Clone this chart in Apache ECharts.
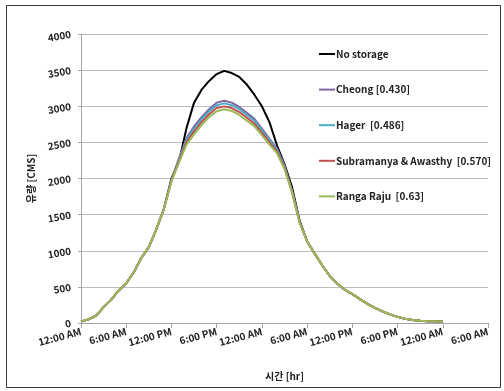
<!DOCTYPE html>
<html><head><meta charset="utf-8">
<script src="https://cdn.jsdelivr.net/npm/echarts@6/dist/echarts.min.js"></script>
<style>html,body{margin:0;padding:0;background:#fff}#c{width:504px;height:391px}</style>
</head><body><div id="c"></div>
<script>
const hours = [0,1,2,3,4,5,6,7,8,9,10,11,12,13,14,15,16,17,18,19,20,21,22,23,24,25,26,27,28,29,30,31,32,33,34,35,36,37,38,39,40,41,42,43,44,45,46,47,48];
const noStorage = [20,50,100,220,320,450,550,700,900,1050,1300,1580,2000,2230,2700,3050,3230,3350,3445,3490,3460,3405,3300,3160,3000,2780,2460,2200,1880,1420,1130,960,800,650,545,460,400,330,265,210,160,120,85,60,42,30,25,25,20];
const cheong = [20,50,100,220,320,450,550,700,900,1050,1300,1580,1980,2280,2560,2720,2850,2960,3050,3075,3050,2990,2910,2825,2690,2550,2418,2180,1830,1400,1130,960,800,650,545,460,400,330,265,210,160,120,85,60,42,30,25,25,20];
const hager = [20,50,100,220,320,450,550,700,900,1050,1300,1580,1975,2265,2535,2690,2820,2930,3015,3040,3015,2960,2880,2800,2665,2530,2400,2165,1825,1398,1130,960,800,650,545,460,400,330,265,210,160,120,85,60,42,30,25,25,20];
const subramanya = [20,50,100,220,320,450,550,700,900,1050,1300,1580,1970,2245,2505,2650,2780,2890,2975,2998,2975,2920,2840,2760,2630,2500,2375,2150,1818,1395,1130,960,800,650,545,460,400,330,265,210,160,120,85,60,42,30,25,25,20];
const rangaRaju = [20,50,100,220,320,450,550,700,900,1050,1300,1580,1960,2220,2470,2610,2740,2850,2930,2958,2935,2880,2800,2725,2600,2470,2350,2130,1810,1390,1130,960,800,650,545,460,400,330,265,210,160,120,85,60,42,30,25,25,20];
const seriesNames = ['No storage','Cheong [0.430]','Hager  [0.486]','Subramanya & Awasthy  [0.570]','Ranga Raju  [0.63]'];
const seriesColors = ['#000000','#8064A2','#4BACC6','#C0504D','#9BBB59'];
const xTickLabels = ['12:00 AM','6:00 AM','12:00 PM','6:00 PM'];
const yTicks = [0,500,1000,1500,2000,2500,3000,3500,4000];

const allValues = [noStorage, cheong, hager, subramanya, rangaRaju];
const FF = "'Noto Sans CJK KR','Noto Sans',sans-serif";
const chart = echarts.init(document.getElementById('c'));
chart.setOption({
  animation:false,
  backgroundColor:'#fff',
  graphic:[{type:'rect',shape:{x:6.5,y:5.5,width:494,height:382},style:{fill:'none',stroke:'#3a3a3a',lineWidth:1},silent:true}],
  grid:{left:81,right:16,top:34,bottom:68},
  legend:{
    orient:'vertical', left:314, top:43,
    icon:'rect', itemWidth:16, itemHeight:2, itemGap:23.6,
    textStyle:{fontFamily:FF,fontSize:10,fontWeight:'bold',color:'#222',lineHeight:12,padding:[0,0,0,-4]},
    data:seriesNames
  },
  xAxis:{
    type:'value', min:0, max:54, interval:6,
    name:'시간 [hr]', nameLocation:'middle', nameGap:48,
    nameTextStyle:{fontFamily:FF,fontSize:10,fontWeight:'bold',color:'#222'},
    axisLine:{lineStyle:{color:'#a6a6a6'}},
    axisTick:{length:5,lineStyle:{color:'#a6a6a6'}},
    splitLine:{show:false},
    axisLabel:{rotate:15,margin:8,fontFamily:FF,fontSize:10,fontWeight:'bold',color:'#222',
      formatter:v=>xTickLabels[(v/6)%4]}
  },
  yAxis:{
    type:'value', min:yTicks[0], max:yTicks[yTicks.length-1], interval:500,
    name:'유량 [CMS]', nameLocation:'middle', nameGap:42, nameRotate:90,
    nameTextStyle:{fontFamily:FF,fontSize:10,fontWeight:'bold',color:'#222'},
    axisLine:{show:true,lineStyle:{color:'#a6a6a6'}},
    axisTick:{show:true,length:3,lineStyle:{color:'#a6a6a6'}},
    splitLine:{lineStyle:{color:'#bdbdbd',width:1}},
    axisLabel:{rotate:10,margin:10,fontFamily:FF,fontSize:10,fontWeight:'bold',color:'#222',
      formatter:v=>String(v)}
  },
  series: seriesNames.map((n,i)=>({
    name:n, type:'line', showSymbol:false, symbol:'none',
    color:seriesColors[i],
    lineStyle:{width:2,color:seriesColors[i]},
    data: hours.map((h,k)=>[h, allValues[i][k]])
  }))
});
</script></body></html>
